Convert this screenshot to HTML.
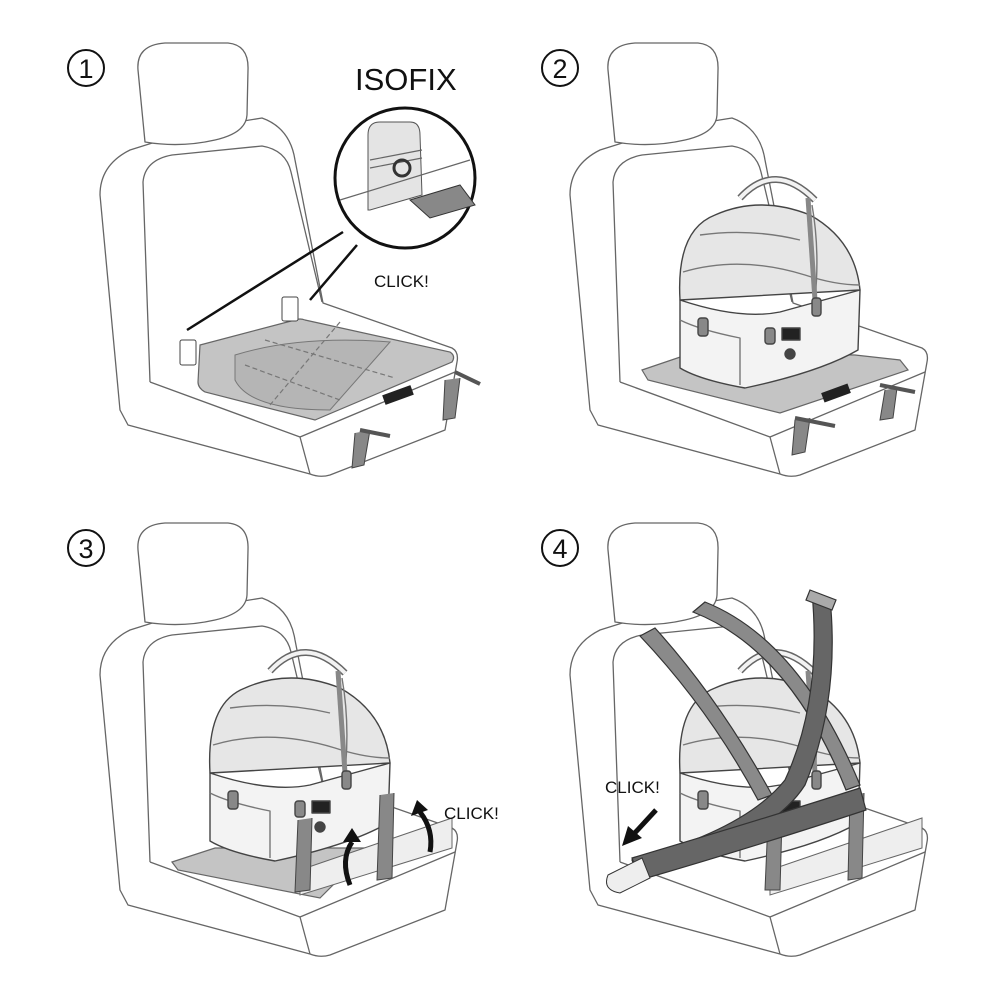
<!DOCTYPE html>
<html><head><meta charset="utf-8"><style>
html,body{margin:0;padding:0;background:#fff;}
svg{display:block}
text{font-family:"Liberation Sans",sans-serif;fill:#111}
</style></head><body>
<svg width="1000" height="1000" viewBox="0 0 1000 1000" xmlns="http://www.w3.org/2000/svg">
<defs>
 <g id="seat" fill="#fff" stroke="#666" stroke-width="1.3" stroke-linejoin="round">
  <path d="M120,410 L100,195 Q100,165 130,150 L200,128 L262,118 Q290,128 295,160 L323,303 L452,348 Q459,352 457,362 L445,430 L330,475 Q320,478 310,474 L128,425 Z"/>
  <path d="M150,382 L143,182 Q145,160 172,155 L262,146 Q286,150 291,172 L322,302" fill="none"/>
  <path d="M150,382 L300,437 L455,372" fill="none"/>
  <path d="M300,437 L310,474" fill="none"/>
  <path d="M145,142 L138,70 Q136,45 165,43 L228,43 Q249,45 248,70 L247,115 Q246,133 215,140 Q180,148 145,142 Z"/>
 </g>
 <g id="carrier" stroke="#444" stroke-width="1.4" stroke-linejoin="round">
  <path d="M740,198 Q775,160 815,200" fill="none" stroke="#666" stroke-width="7"/>
  <path d="M740,198 Q775,160 815,200" fill="none" stroke="#f2f2f2" stroke-width="4"/>
  <path d="M680,300 Q676,230 715,215 Q760,195 810,215 Q855,240 860,290 Z" fill="#e6e6e6"/>
  <path d="M683,272 Q740,255 805,275 Q835,285 860,285" fill="none" stroke="#777"/>
  <path d="M700,235 Q750,228 800,240" fill="none" stroke="#777"/>
  <path d="M812,205 Q820,250 815,300" fill="none" stroke="#777"/>
  <path d="M808,198 L815,300" stroke="#888" stroke-width="5"/>
  <path d="M680,300 Q740,320 780,312 L860,290 L858,350 Q820,372 745,388 Q700,380 680,368 Z" fill="#f3f3f3"/>
  <path d="M680,320 Q700,330 740,338 L740,385" fill="none" stroke="#777"/>
  <rect x="698" y="318" width="10" height="18" rx="3" fill="#888"/>
  <rect x="812" y="298" width="9" height="18" rx="3" fill="#888"/>
  <rect x="765" y="328" width="10" height="16" rx="3" fill="#888"/>
  <rect x="782" y="328" width="18" height="12" fill="#222"/>
  <circle cx="790" cy="354" r="5" fill="#444"/>
 </g>
</defs>

<g fill="none" stroke="#111" stroke-width="2">
 <circle cx="86" cy="68" r="18"/><circle cx="560" cy="68" r="18"/>
 <circle cx="86" cy="548" r="18"/><circle cx="560" cy="548" r="18"/>
</g>
<text x="86" y="78" font-size="27" text-anchor="middle">1</text>
<text x="560" y="78" font-size="27" text-anchor="middle">2</text>
<text x="86" y="558" font-size="27" text-anchor="middle">3</text>
<text x="560" y="558" font-size="27" text-anchor="middle">4</text>

<!-- Panel 1 -->
<use href="#seat"/>
<path d="M200,345 L295,320 Q300,318 305,320 L450,352 Q456,356 452,362 L315,420 L205,392 Q198,388 198,382 Z" fill="#c4c4c4" stroke="#666" stroke-width="1.2"/>
<path d="M235,355 Q300,335 390,342 L330,410 Q250,410 235,380 Z" fill="#b5b5b5" stroke="#777" stroke-width="1"/>
<g stroke="#777" stroke-width="1.2" stroke-dasharray="5,3" fill="none">
 <path d="M265,340 L395,378 M340,322 L270,405 M245,365 L340,400"/>
</g>
<rect x="383" y="390" width="30" height="10" fill="#222" transform="rotate(-20 398 395)"/>
<path d="M355,433 L352,468 L364,465 L370,430" fill="#888" stroke="#444"/>
<path d="M445,380 L443,420 L455,418 L460,378" fill="#888" stroke="#444"/>
<path d="M360,430 L390,436" stroke="#555" stroke-width="4"/>
<path d="M455,372 L480,384" stroke="#555" stroke-width="4"/>
<rect x="180" y="340" width="16" height="25" rx="2" fill="#fff" stroke="#444"/>
<rect x="282" y="297" width="16" height="24" rx="2" fill="#fff" stroke="#444"/>
<path d="M187,330 L343,232 M310,300 L357,245" stroke="#111" stroke-width="2.5" fill="none"/>
<text x="355" y="90" font-size="31">ISOFIX</text>
<circle cx="405" cy="178" r="70" fill="#fff" stroke="#111" stroke-width="3"/>
<path d="M368,210 L368,135 Q368,122 380,122 L410,122 Q420,122 420,135 L422,195 L370,210 Z" fill="#e4e4e4" stroke="#555"/>
<path d="M340,200 L470,160" stroke="#666" stroke-width="1.2"/>
<path d="M370,160 L422,150 M370,168 L422,158" stroke="#666" stroke-width="1.2"/>
<path d="M410,200 L460,185 L475,205 L430,218 Z" fill="#888" stroke="#333"/>
<circle cx="402" cy="168" r="8" fill="none" stroke="#333" stroke-width="3"/>
<text x="374" y="287" font-size="17">CLICK!</text>

<!-- Panel 2 -->
<g transform="translate(470,0)"><use href="#seat"/></g>
<path d="M642,370 L695,352 L855,355 L900,360 L908,370 L780,413 L648,380 Z" fill="#c4c4c4" stroke="#666" stroke-width="1.2"/>
<use href="#carrier"/>
<rect x="822" y="388" width="28" height="10" fill="#222" transform="rotate(-20 836 393)"/>
<path d="M795,420 L792,455 L805,452 L810,418 M885,390 L880,420 L893,418 L897,388" fill="#888" stroke="#444"/>
<path d="M795,418 L835,426 M880,385 L915,392" stroke="#555" stroke-width="4"/>

<!-- Panel 3 -->
<g transform="translate(0,480)"><use href="#seat"/></g>
<path d="M172,862 L215,848 L370,848 L320,898 L178,870 Z" fill="#c4c4c4" stroke="#666" stroke-width="1.2"/>
<path d="M300,895 L300,870 L452,818 L452,848 Z" fill="#eee" stroke="#666"/>
<g transform="translate(-470,473)"><use href="#carrier"/></g>
<path d="M298,820 L295,892 L310,890 L312,818 M380,795 L377,880 L392,878 L394,793" fill="#888" stroke="#444"/>
<g fill="none" stroke="#111" stroke-width="5">
 <path d="M350,885 Q340,860 352,842"/><path d="M430,852 Q434,830 420,812"/>
</g>
<polygon points="343,842 361,842 352,828" fill="#111"/>
<polygon points="411,816 428,810 417,800" fill="#111"/>
<text x="444" y="819" font-size="17">CLICK!</text>

<!-- Panel 4 -->
<g transform="translate(470,480)"><use href="#seat"/></g>
<path d="M770,895 L770,870 L922,818 L922,848 Z" fill="#eee" stroke="#666"/>
<g transform="translate(0,473)"><use href="#carrier"/></g>
<path d="M768,820 L765,890 L780,890 L782,818 M850,795 L848,880 L862,878 L864,793" fill="#888" stroke="#444"/>
<g stroke="#333" stroke-width="1.2">
 <path d="M640,636 L655,628 Q720,700 772,795 L758,800 Q710,710 640,636 Z" fill="#8a8a8a"/>
 <path d="M693,612 L705,602 Q800,640 860,785 L846,790 Q790,650 693,612 Z" fill="#8a8a8a"/>
 <path d="M812,592 L830,598 Q840,700 805,785 Q770,840 640,880 L632,860 Q745,830 785,780 Q822,700 812,592 Z" fill="#666"/>
 <path d="M632,858 Q760,820 860,788 L866,810 Q760,845 640,880 Z" fill="#666"/>
 <path d="M810,590 L836,600 L832,610 L806,600 Z" fill="#aaa"/>
</g>
<path d="M608,875 L642,858 L650,878 L620,893 Q602,890 608,875 Z" fill="#eee" stroke="#333"/>
<text x="605" y="793" font-size="17">CLICK!</text>
<path d="M656,810 L632,836" stroke="#111" stroke-width="5"/>
<polygon points="622,846 628,826 642,838" fill="#111"/>
</svg>
</body></html>
